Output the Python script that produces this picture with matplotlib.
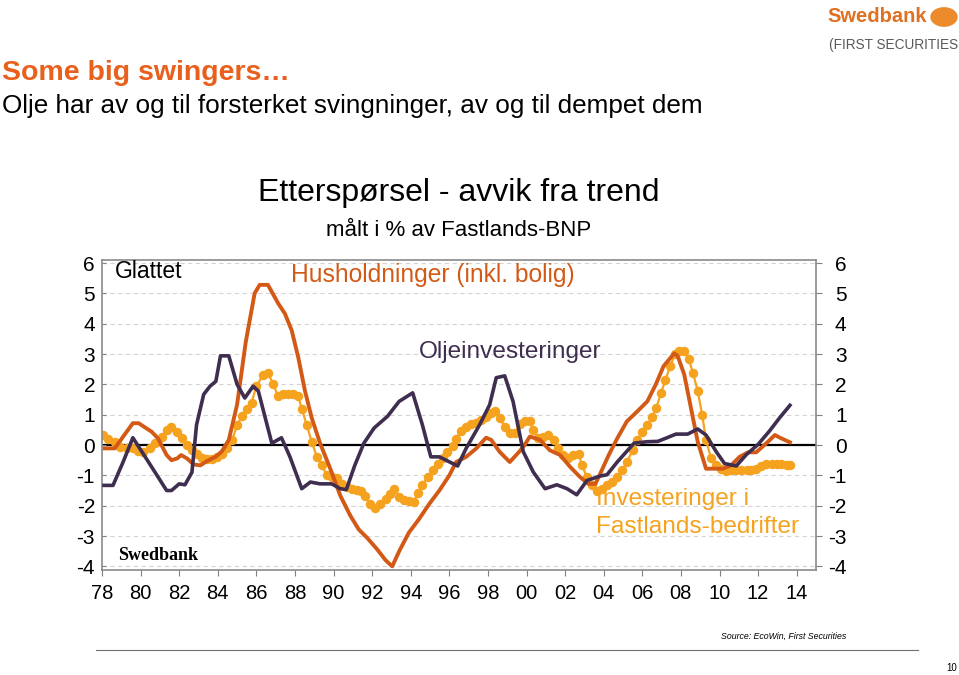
import matplotlib
matplotlib.use('Agg')
import matplotlib.pyplot as plt
from matplotlib.patches import Circle

plt.rcParams['font.family'] = ['Liberation Sans', 'DejaVu Sans']
plt.rcParams['axes.unicode_minus'] = False

# Husholdninger (inkl. bolig)
hh_year = [1978.14, 1978.66, 1979.1, 1979.6, 1979.9, 1980.23, 1980.57, 1980.9, 1981.35, 1981.6,
           1981.9, 1982.1, 1982.4, 1982.75, 1983.1, 1983.44, 1983.88, 1984.2, 1984.57, 1985.0,
           1985.45, 1985.91, 1986.17, 1986.6, 1987.13, 1987.48, 1987.83, 1988.17, 1988.52, 1988.87,
           1989.3, 1989.83, 1990.35, 1990.87, 1991.3, 1991.74, 1992.26, 1992.7, 1993.04, 1993.4,
           1993.9, 1994.43, 1994.96, 1995.48, 1996.0, 1996.35, 1996.87, 1997.4, 1997.9, 1998.17,
           1998.6, 1999.13, 1999.65, 1999.9, 2000.17, 2000.7, 2001.2, 2001.74, 2002.26, 2002.78,
           2003.2, 2003.57, 2003.9, 2004.26, 2004.7, 2005.2, 2005.74, 2006.26, 2006.7, 2007.1,
           2007.65, 2007.83, 2008.17, 2008.52, 2008.87, 2009.3, 2009.74, 2010.17, 2010.6, 2011.04,
           2011.48, 2011.9, 2012.43, 2012.87, 2013.2, 2013.65]
hh_val = [-0.11, -0.11, 0.28, 0.72, 0.72, 0.58, 0.44, 0.22, -0.33, -0.5,
          -0.44, -0.33, -0.44, -0.64, -0.67, -0.53, -0.39, -0.22, 0.17, 1.33,
          3.4, 5.0, 5.28, 5.28, 4.67, 4.33, 3.78, 2.89, 1.78, 0.89,
          0.06, -0.78, -1.67, -2.33, -2.78, -3.06, -3.44, -3.8, -4.0, -3.5,
          -2.89, -2.44, -1.94, -1.5, -1.0, -0.56, -0.39, -0.11, 0.24, 0.17,
          -0.22, -0.56, -0.2, 0.0, 0.28, 0.17, -0.17, -0.33, -0.72, -1.06,
          -1.28, -1.28, -0.83, -0.33, 0.22, 0.78, 1.11, 1.44, 2.0, 2.6,
          3.02, 2.94, 2.33, 1.22, 0.11, -0.78, -0.78, -0.78, -0.67, -0.39,
          -0.24, -0.24, 0.06, 0.33, 0.22, 0.09]

# Oljeinvesteringer
oil_year = [1978.1, 1978.57, 1979.1, 1979.6, 1980.5, 1981.35, 1981.6, 1982.0, 1982.3, 1982.66,
            1982.9, 1983.27, 1983.6, 1983.9, 1984.14, 1984.57, 1985.0, 1985.4, 1985.83, 1986.1,
            1986.8, 1987.3, 1987.74, 1988.35, 1988.8, 1989.3, 1989.9, 1990.35, 1990.66, 1991.1,
            1991.57, 1992.1, 1992.8, 1993.4, 1994.1, 1994.6, 1995.04, 1995.48, 1996.43, 1996.87,
            1997.57, 1998.09, 1998.43, 1998.87, 1999.3, 1999.83, 2000.35, 2000.96, 2001.57, 2002.1,
            2002.6, 2003.13, 2003.83, 2004.17, 2004.7, 2005.57, 2006.26, 2006.8, 2007.2, 2007.74,
            2008.35, 2008.87, 2009.3, 2009.83, 2010.26, 2010.87, 2011.4, 2012.0, 2012.6, 2013.13,
            2013.65]
oil_val = [-1.33, -1.33, -0.55, 0.24, -0.65, -1.5, -1.5, -1.28, -1.31, -0.9,
           0.67, 1.67, 1.94, 2.1, 2.94, 2.94, 2.0, 1.55, 1.94, 1.78,
           0.06, 0.24, -0.39, -1.44, -1.22, -1.28, -1.28, -1.44, -1.47, -0.67,
           0.06, 0.56, 0.95, 1.44, 1.72, 0.67, -0.39, -0.39, -0.69, -0.11,
           0.67, 1.33, 2.22, 2.28, 1.44, -0.22, -0.89, -1.44, -1.31, -1.44,
           -1.64, -1.17, -1.02, -0.98, -0.56, 0.06, 0.11, 0.12, 0.22, 0.36,
           0.36, 0.53, 0.33, -0.22, -0.61, -0.69, -0.31, 0.02, 0.47, 0.91,
           1.31]

# Investeringer i Fastlands-bedrifter
inv_year = [1978.05, 1978.3, 1978.66, 1978.92, 1979.27, 1979.6, 1979.88, 1980.14, 1980.5, 1980.75,
            1981.1, 1981.36, 1981.6, 1981.88, 1982.14, 1982.4, 1982.66, 1982.92, 1983.18, 1983.44,
            1983.7, 1983.97, 1984.23, 1984.5, 1984.75, 1985.0, 1985.27, 1985.5, 1985.75, 1986.0,
            1986.35, 1986.6, 1986.87, 1987.13, 1987.4, 1987.65, 1987.9, 1988.17, 1988.35, 1988.6,
            1988.87, 1989.13, 1989.4, 1989.65, 1989.9, 1990.17, 1990.43, 1990.7, 1990.96, 1991.2,
            1991.4, 1991.65, 1991.9, 1992.17, 1992.43, 1992.7, 1992.92, 1993.13, 1993.4, 1993.65,
            1993.9, 1994.17, 1994.35, 1994.6, 1994.87, 1995.13, 1995.4, 1995.65, 1995.9, 1996.17,
            1996.35, 1996.6, 1996.87, 1997.13, 1997.4, 1997.65, 1997.9, 1998.17, 1998.35, 1998.6,
            1998.87, 1999.13, 1999.4, 1999.65, 1999.9, 2000.17, 2000.35, 2000.6, 2000.87, 2001.13,
            2001.4, 2001.65, 2001.9, 2002.17, 2002.43, 2002.7, 2002.87, 2003.13, 2003.4, 2003.65,
            2003.9, 2004.17, 2004.43, 2004.7, 2004.96, 2005.2, 2005.5, 2005.74, 2006.0, 2006.26,
            2006.52, 2006.72, 2006.96, 2007.2, 2007.45, 2007.7, 2007.9, 2008.15, 2008.4, 2008.62,
            2008.87, 2009.1, 2009.3, 2009.56, 2009.83, 2010.1, 2010.35, 2010.6, 2010.87, 2011.13,
            2011.4, 2011.65, 2011.9, 2012.17, 2012.43, 2012.7, 2012.96, 2013.2, 2013.48, 2013.65]
inv_val = [0.33, 0.2, 0.09, -0.06, -0.09, -0.09, -0.2, -0.22, -0.11, 0.06,
           0.28, 0.5, 0.58, 0.44, 0.22, 0.0, -0.17, -0.28, -0.42, -0.47,
           -0.47, -0.39, -0.28, -0.11, 0.17, 0.67, 0.95, 1.2, 1.4, 1.94,
           2.31, 2.39, 2.0, 1.61, 1.67, 1.69, 1.67, 1.61, 1.2, 0.67,
           0.11, -0.39, -0.67, -1.0, -1.06, -1.09, -1.28, -1.39, -1.44, -1.47,
           -1.5, -1.69, -1.94, -2.06, -1.94, -1.78, -1.6, -1.44, -1.72, -1.81,
           -1.83, -1.87, -1.58, -1.31, -1.06, -0.83, -0.61, -0.42, -0.22, -0.02,
           0.2, 0.47, 0.61, 0.69, 0.72, 0.83, 0.91, 1.06, 1.11, 0.89,
           0.61, 0.39, 0.39, 0.7, 0.8, 0.78, 0.5, 0.22, 0.28, 0.33,
           0.17, -0.11, -0.33, -0.42, -0.33, -0.28, -0.67, -1.06, -1.33, -1.5,
           -1.44, -1.33, -1.22, -1.06, -0.83, -0.56, -0.17, 0.17, 0.44, 0.67,
           0.94, 1.22, 1.7, 2.15, 2.61, 3.0, 3.11, 3.09, 2.83, 2.39,
           1.78, 1.0, 0.17, -0.44, -0.67, -0.78, -0.87, -0.83, -0.83, -0.83,
           -0.83, -0.83, -0.78, -0.69, -0.64, -0.61, -0.61, -0.64, -0.67, -0.67]

x_ticks = list(range(1978, 2015, 2))
x_labels = ['%02d' % (y % 100) for y in x_ticks]
y_ticks = list(range(-4, 7))

c_hh = '#d35a16'
c_oil = '#3f2e4f'
c_inv = '#f5a21e'
c_title = '#e8601c'

W, H = 959, 675
fig = plt.figure(figsize=(W / 100, H / 100), dpi=100)


def fx(px):
    return px / W


def fy(py):
    return 1 - py / H


ax = fig.add_axes([fx(102), fy(570), fx(816 - 102), (570 - 260) / H])
ax.set_xlim(1978, 2015)
ax.set_ylim(-4.12, 6.1)

for y in y_ticks:
    if y != 0:
        ax.axhline(y, color='#d4d4d4', lw=0.8, ls=(0, (4, 3)), zorder=0)
ax.axhline(0, color='black', lw=1.6, zorder=1)

ax.plot(inv_year, inv_val, color=c_inv, lw=1.6, marker='o', ms=5.8, mec=c_inv, zorder=2)
ax.plot(hh_year, hh_val, color=c_hh, lw=2.8, zorder=3, solid_joinstyle='round')
ax.plot(oil_year, oil_val, color=c_oil, lw=2.6, zorder=4, solid_joinstyle='round')

ax.set_xticks(x_ticks)
ax.set_xticklabels(x_labels)
ax.set_yticks(y_ticks)
ax.tick_params(axis='x', direction='out', length=4, pad=6, labelsize=14.5, color='#808080')
ax.tick_params(axis='y', direction='in', length=3, pad=5, labelsize=15, color='#808080')
for s in ax.spines.values():
    s.set_color('#8a8a8a')
    s.set_linewidth(1.2)

ax2 = ax.twinx()
ax2.set_ylim(ax.get_ylim())
ax2.set_yticks(y_ticks)
ax2.tick_params(axis='y', direction='out', length=4, pad=18, labelsize=15, color='#808080')
for lab in ax2.get_yticklabels():
    lab.set_horizontalalignment('right')
for s in ax2.spines.values():
    s.set_visible(False)

# labels inside chart
fig.text(fx(115), fy(272), 'Glattet', fontsize=16.5, va='center', ha='left')
fig.text(fx(291), fy(275), 'Husholdninger (inkl. bolig)', fontsize=17.7, color=c_hh, va='center')
fig.text(fx(419), fy(352), 'Oljeinvesteringer', fontsize=17.6, color=c_oil, va='center')
fig.text(fx(596), fy(499), 'Investeringer i', fontsize=17.6, color=c_inv, va='center')
fig.text(fx(596), fy(527), 'Fastlands-bedrifter', fontsize=17.6, color=c_inv, va='center')
fig.text(fx(118), fy(555), 'Swedbank', fontsize=13, fontweight='bold',
         family='Liberation Serif', va='center')

# headings
fig.text(fx(2), fy(73), 'Some big swingers…', fontsize=20.5, fontweight='bold', color=c_title, va='center')
fig.text(fx(2), fy(106), 'Olje har av og til forsterket svingninger, av og til dempet dem',
         fontsize=18.8, va='center')
fig.text(fx(459), fy(193), 'Etterspørsel - avvik fra trend', fontsize=23, ha='center', va='center')
fig.text(fx(459), fy(230), 'målt i % av Fastlands-BNP', fontsize=16, ha='center', va='center')

# footer
fig.text(fx(846), fy(636), 'Source: EcoWin, First Securities', fontsize=6.3, style='italic',
         ha='right', va='center')
fig.add_artist(plt.Line2D([fx(96), fx(918)], [fy(650), fy(650)], color='#707070', lw=0.8))
fig.text(fx(957), fy(668), '10', fontsize=7, ha='right', va='center')

# logo
fig.text(fx(827), fy(17), 'Swedbank', fontsize=14.5, fontweight='bold', color='#e07022', va='center')
fig.add_artist(Circle((fx(944), fy(17)), 13 / W, transform=fig.transFigure,
                      color='#ec8a2c', zorder=5))
fig.text(fx(829), fy(45), '(FIRST SECURITIES', fontsize=9.8, color='#5a5a5a', va='center')

fig.savefig('out.png', dpi=100)
